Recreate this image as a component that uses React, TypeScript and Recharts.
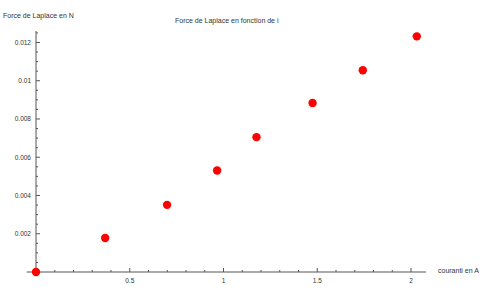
import { ReferenceLine, Scatter, ScatterChart, XAxis, YAxis } from 'recharts'

// courant i (A) et force de Laplace F (N)
const currents = [0, 0.369, 0.699, 0.966, 1.176, 1.475, 1.743, 2.031]
const forces = [0, 0.00178, 0.00351, 0.00531, 0.00705, 0.00884, 0.01055, 0.01232]

const xTicks = [
  0.1, 0.2, 0.3, 0.4, 0.5, 0.6, 0.7, 0.8, 0.9, 1, 1.1, 1.2, 1.3, 1.4, 1.5, 1.6, 1.7, 1.8, 1.9, 2,
]
const xMajor = [0.5, 1, 1.5, 2]
const yTicks = [
  0.0005, 0.001, 0.0015, 0.002, 0.0025, 0.003, 0.0035, 0.004, 0.0045, 0.005, 0.0055, 0.006,
  0.0065, 0.007, 0.0075, 0.008, 0.0085, 0.009, 0.0095, 0.01, 0.0105, 0.011, 0.0115, 0.012, 0.0125,
]
const yMajor = [0.002, 0.004, 0.006, 0.008, 0.01, 0.012]

const AXIS = '#555'
const TEXT = '#333'
const FONT = '"Liberation Sans", Arial, sans-serif'

const data = currents.map((i, k) => ({ i, f: forces[k] }))

const fmt = (v: number) => String(Number(v.toFixed(4)))

function XTick({ x, y, payload }: any) {
  const major = xMajor.includes(payload.value)
  return (
    <g>
      <line x1={x} x2={x} y1={y} y2={y - (major ? 4 : 2)} stroke={AXIS} />
      {major && (
        <text x={x} y={y + 10.5} textAnchor="middle" fontSize={6.5} fill={TEXT} fontFamily={FONT}>
          {fmt(payload.value)}
        </text>
      )}
    </g>
  )
}

function YTick({ x, y, payload }: any) {
  const major = yMajor.includes(payload.value)
  return (
    <g>
      <line x1={x} x2={x + (major ? 4 : 2)} y1={y} y2={y} stroke={AXIS} />
      {major && (
        <text x={x - 5} y={y + 2.3} textAnchor="end" fontSize={6.5} fill={TEXT} fontFamily={FONT}>
          {fmt(payload.value)}
        </text>
      )}
    </g>
  )
}

const Dot = ({ cx, cy }: any) => <circle cx={cx} cy={cy} r={4.2} fill="#ff0000" />

const label = { position: 'absolute' as const, fontSize: 7, fontFamily: FONT, color: TEXT, lineHeight: 1, whiteSpace: 'nowrap' as const }

export default function App() {
  return (
    <div style={{ position: 'absolute', left: 0, top: 0, width: 483, height: 298, background: '#fff' }}>
      <ScatterChart width={483} height={298} margin={{ top: 31, right: 57, bottom: 25, left: 35 }}>
        <XAxis
          type="number"
          dataKey="i"
          domain={[0, 2.08]}
          ticks={xTicks}
          interval={0}
          height={1}
          tickSize={0}
          tickMargin={0}
          tick={<XTick />}
          stroke={AXIS}
        />
        <YAxis
          type="number"
          dataKey="f"
          domain={[0, 0.0126]}
          ticks={yTicks}
          interval={0}
          width={1}
          tickSize={0}
          tickMargin={0}
          tick={<YTick />}
          stroke={AXIS}
        />
        <ReferenceLine
          segment={[
            { x: -0.05, y: 0 },
            { x: 0, y: 0 },
          ]}
          ifOverflow="visible"
          stroke={AXIS}
        />
        <Scatter data={data} shape={<Dot />} isAnimationActive={false} />
      </ScatterChart>
      <div style={{ ...label, left: 3, top: 12 }}>Force de Laplace en N</div>
      <div style={{ ...label, left: 175, top: 17 }}>Force de Laplace en fonction de i</div>
      <div style={{ ...label, left: 438, top: 267 }}>couranti en A</div>
    </div>
  )
}
